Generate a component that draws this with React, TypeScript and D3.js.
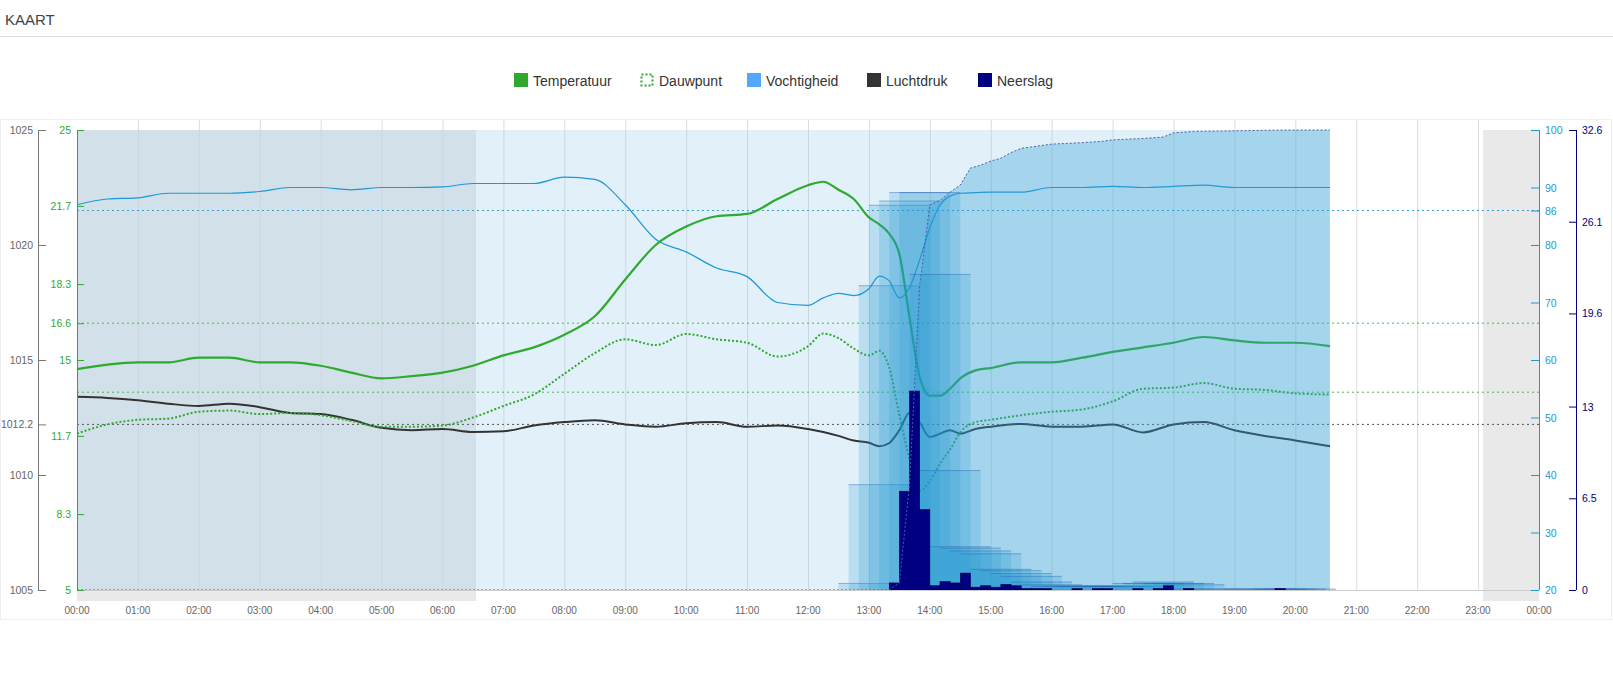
import React from 'react';
import * as d3 from 'd3';

// shared time grid (hours since 00:00)
const hours = [
  0, 0.5, 1, 1.5, 2, 2.5, 3, 3.5, 4, 4.5, 5, 5.5, 6, 6.5, 7, 7.5, 8, 8.5, 9, 9.5,
  10, 10.5, 11, 11.5, 12, 12.25, 12.5, 12.75, 13, 13.17, 13.33, 13.5, 13.67, 13.83,
  14, 14.17, 14.33, 14.5, 14.75, 15, 15.5, 16, 16.5, 17, 17.5, 18, 18.5, 19, 19.5, 20, 20.57,
];
const temperature = [
  14.6, 14.8, 14.9, 14.9, 15.1, 15.1, 14.9, 14.9, 14.75, 14.45, 14.2, 14.3, 14.45, 14.75, 15.2, 15.55, 16.1, 16.9, 18.5, 20.0,
  20.8, 21.25, 21.35, 22.0, 22.6, 22.75, 22.4, 22.0, 21.2, 20.9, 20.5, 19.6, 16.8, 14.3,
  13.45, 13.45, 13.75, 14.2, 14.55, 14.65, 14.9, 14.9, 15.1, 15.35, 15.55, 15.75, 16.0, 15.85, 15.75, 15.75, 15.6,
];
const dewPoint = [
  11.8, 12.2, 12.4, 12.45, 12.75, 12.8, 12.65, 12.7, 12.6, 12.35, 12.1, 12.1, 12.15, 12.5, 13.0, 13.5, 14.4, 15.3, 15.9, 15.65,
  16.13, 15.9, 15.75, 15.15, 15.6, 16.15, 15.95, 15.5, 15.2, 15.4, 14.7, 12.6, 10.65, 9.3,
  9.75, 10.5, 11.1, 11.85, 12.3, 12.4, 12.6, 12.75, 12.85, 13.2, 13.75, 13.8, 14.0, 13.75, 13.7, 13.55, 13.5,
];
const humidity = [
  87.0, 88.0, 88.2, 89.0, 89.0, 89.0, 89.3, 90.0, 90.0, 89.6, 90.0, 90.0, 90.1, 90.7, 90.7, 90.7, 91.8, 91.4, 87.0, 81.0,
  78.8, 76.0, 74.5, 70.0, 69.5, 70.8, 71.6, 71.2, 72.4, 74.6, 73.8, 70.8, 72.7, 77.3,
  83.0, 87.0, 88.5, 89.0, 89.1, 89.2, 89.2, 90.0, 90.0, 90.2, 90.0, 90.2, 90.4, 90.0, 90.0, 90.0, 90.0,
];
const pressure = [
  1013.4, 1013.35, 1013.25, 1013.1, 1013.0, 1013.1, 1012.95, 1012.7, 1012.65, 1012.4, 1012.05, 1011.95, 1012.0, 1011.87, 1011.9, 1012.15, 1012.3, 1012.38, 1012.2, 1012.1,
  1012.25, 1012.3, 1012.1, 1012.15, 1012.0, 1011.87, 1011.7, 1011.5, 1011.4, 1011.25, 1011.38, 1011.95, 1012.72, 1012.3,
  1011.65, 1011.8, 1011.95, 1011.8, 1012.0, 1012.1, 1012.22, 1012.1, 1012.1, 1012.2, 1011.85, 1012.2, 1012.3, 1011.95, 1011.7, 1011.5, 1011.25,
];

// rain per 10 minutes (slot start)
const rainSlots = [
  '13:20', '13:30', '13:40', '13:50', '14:00', '14:10', '14:20', '14:30', '14:40', '14:50', '15:00', '15:10',
  '15:20', '15:30', '15:40', '15:50', '16:20', '16:40', '16:50', '17:20', '17:40', '17:50', '18:10', '19:40',
];
const rainValues = [
  0.5, 7.0, 14.1, 5.7, 0.3, 0.6, 0.5, 1.2, 0.2, 0.3, 0.2, 0.4,
  0.3, 0.1, 0.1, 0.1, 0.1, 0.1, 0.1, 0.1, 0.1, 0.3, 0.1, 0.1,
];

// rain over one hour (window start)
const rainRateStarts = [
  '12:30', '12:40', '12:50', '13:00', '13:10', '13:20', '13:30', '13:40', '13:50', '14:00', '14:10', '14:20',
  '14:30', '14:40', '14:50', '15:00', '15:10', '15:20', '15:30', '15:40', '15:50', '16:00', '16:10', '16:20',
  '16:30', '16:40', '16:50', '17:00', '17:10', '17:20', '17:30', '17:40', '17:50', '18:00', '18:10', '18:50',
  '19:00', '19:10', '19:20', '19:30', '19:40',
];
const rainRateValues = [
  0.5, 7.5, 21.6, 27.3, 27.6, 28.2, 28.2, 22.4, 8.5, 3.1, 3.0, 2.8,
  2.6, 1.5, 1.4, 1.2, 1.0, 0.6, 0.4, 0.3, 0.3, 0.3, 0.3, 0.3,
  0.3, 0.3, 0.3, 0.5, 0.5, 0.6, 0.5, 0.5, 0.4, 0.1, 0.1, 0.1,
  0.1, 0.1, 0.1, 0.1, 0.1,
];

// cumulative rain
const rainTotalTimes = [
  '00:00', '13:20', '13:30', '13:40', '13:50', '14:00', '14:10', '14:20', '14:30', '14:40', '14:50', '15:00',
  '15:10', '15:20', '15:30', '15:40', '15:50', '16:00', '16:30', '16:50', '17:00', '17:30', '17:50', '18:00',
  '18:20', '19:50', '20:34',
];
const rainTotalValues = [
  0, 0, 0.5, 7.5, 21.6, 27.3, 27.6, 28.2, 28.7, 29.9, 30.1, 30.4,
  30.6, 31.0, 31.3, 31.4, 31.5, 31.6, 31.7, 31.8, 31.9, 32.0, 32.1, 32.4,
  32.5, 32.6, 32.6,
];

const nightBands = [['00:00', '06:33'], ['23:05', '24:00']];
const dataEnd = '20:34';

const pressureTicks = [1005, 1010, 1012.2, 1015, 1020, 1025];
const tempTicks = [5, 8.3, 11.7, 15, 16.6, 18.3, 21.7, 25];
const humidityTicks = [20, 30, 40, 50, 60, 70, 80, 86, 90, 100];
const rainTicks = [0, 6.5, 13, 19.6, 26.1, 32.6];
const hourLabels = d3.range(25).map(h => `${String(h % 24).padStart(2, '0')}:00`);

const averages = { temp: 16.6, dew: 13.6, humidity: 86, pressure: 1012.2 };

const legendLabels = ['Temperatuur', 'Dauwpunt', 'Vochtigheid', 'Luchtdruk', 'Neerslag'];
const legendColors = ['#2ea82e', '#2ea82e', '#52a8ff', '#333333', '#000080'];
const legendX = [514, 640, 747, 867, 978];

const FONT = '"Liberation Sans", Arial, sans-serif';
const C = {
  temp: '#2eaa2e',
  hum: '#1b98d5',
  press: '#333333',
  rain: '#000080',
  axisGray: '#777777',
};

const toH = (s: string) => {
  const [h, m] = s.split(':').map(Number);
  return h + m / 60;
};

export default function App() {
  const left = 77;
  const right = 1539;
  const top = 130;
  const bottom = 590;

  const x = d3.scaleLinear().domain([0, 24]).range([left, right]);
  const yTemp = d3.scaleLinear().domain([5, 25]).range([bottom, top]);
  const yPress = d3.scaleLinear().domain([1005, 1025]).range([bottom, top]);
  const yHum = d3.scaleLinear().domain([20, 100]).range([bottom, top]);
  const yRain = d3.scaleLinear().domain([0, 32.6]).range([bottom, top]);

  const mkLine = (vals: number[], y: d3.ScaleLinear<number, number>) =>
    d3.line<number>()
      .x((_, i) => x(hours[i]))
      .y(d => y(d))
      .curve(d3.curveMonotoneX)(vals) || '';

  const totalPts = rainTotalTimes.map((t, i) => ({ h: toH(t), v: rainTotalValues[i] }));
  const totalArea = d3.area<{ h: number; v: number }>()
    .x(d => x(d.h))
    .y0(yRain(0))
    .y1(d => yRain(d.v))(totalPts) || '';
  const totalLine = d3.line<{ h: number; v: number }>()
    .x(d => x(d.h))
    .y(d => yRain(d.v))(totalPts) || '';

  const slot = 1 / 6;

  return (
    <div style={{ position: 'absolute', left: 0, top: 0 }}>
      <svg width={1613} height={674} style={{ display: 'block', fontFamily: FONT }}>
        <rect x={0} y={0} width={1613} height={674} fill="#fff" />
        <text x={5} y={25} fontSize={15} fill="#444">KAART</text>
        <line x1={0} x2={1613} y1={36.5} y2={36.5} stroke="#dddddd" />

        {/* legend */}
        {legendLabels.map((lab, i) => (
          <g key={lab} transform={`translate(${legendX[i]},0)`}>
            {i === 1 ? (
              <rect x={1.5} y={74.5} width={11} height={11} fill="none" stroke={legendColors[i]}
                strokeWidth={2} strokeDasharray="2,2" />
            ) : (
              <rect x={0} y={73} width={14} height={14} fill={legendColors[i]} />
            )}
            <text x={19} y={86} fontSize={14} fill="#333">{lab}</text>
          </g>
        ))}

        {/* container */}
        <rect x={0.5} y={119.5} width={1611} height={500} fill="none" stroke="#eeeeee" />

        {/* night bands */}
        {nightBands.map(([a, b]) => (
          <rect key={a} x={x(toH(a))} y={top} width={x(toH(b)) - x(toH(a))} height={601 - top} fill="#e9e9e9" />
        ))}

        {/* hour grid */}
        {d3.range(1, 24).map(h => (
          <line key={h} x1={x(h) + 0.5} x2={x(h) + 0.5} y1={120} y2={bottom} stroke="#dcdcdc" />
        ))}

        {/* light humidity band */}
        <rect x={x(0)} y={top} width={x(toH(dataEnd)) - x(0)} height={bottom - top} fill="rgba(160,210,235,0.3)" />

        {/* average lines */}
        <line x1={left} x2={right} y1={yHum(averages.humidity)} y2={yHum(averages.humidity)} stroke="#3a9fd0" strokeDasharray="2,3" />
        <line x1={left} x2={right} y1={yTemp(averages.temp)} y2={yTemp(averages.temp)} stroke="#44bb44" strokeDasharray="2,3" />
        <line x1={left} x2={right} y1={yTemp(averages.dew)} y2={yTemp(averages.dew)} stroke="#44bb44" strokeDasharray="2,3" />
        <line x1={left} x2={right} y1={yPress(averages.pressure)} y2={yPress(averages.pressure)} stroke="#555" strokeDasharray="2,3" />

        {/* series lines */}
        <path d={mkLine(pressure, yPress)} fill="none" stroke={C.press} strokeWidth={2} />
        <path d={mkLine(humidity, yHum)} fill="none" stroke={C.hum} strokeWidth={1.2} />
        <path d={mkLine(temperature, yTemp)} fill="none" stroke={C.temp} strokeWidth={2.2} />
        <path d={mkLine(dewPoint, yTemp)} fill="none" stroke={C.temp} strokeWidth={2} strokeDasharray="2,2" />

        {/* cumulative rain area */}
        <path d={totalArea} fill="rgba(50,160,215,0.35)" />

        {/* hourly rain windows */}
        {rainRateStarts.map((s, i) => {
          const x0 = x(toH(s));
          const x1 = x(toH(s) + 1);
          const y0 = yRain(rainRateValues[i]);
          return (
            <g key={s}>
              <rect x={x0} y={y0} width={x1 - x0} height={bottom - y0} fill="rgba(30,150,210,0.2)" />
              <line x1={x0} x2={x1} y1={y0 + 0.5} y2={y0 + 0.5} stroke="rgba(40,80,170,0.35)" />
            </g>
          );
        })}

        {/* rain bars */}
        {rainSlots.map((s, i) => {
          const x0 = x(toH(s));
          const x1 = x(toH(s) + slot);
          const y0 = yRain(rainValues[i]);
          return (
            <rect key={s} x={x0} y={y0} width={x1 - x0} height={bottom - y0}
              fill={C.rain} stroke="#000050" strokeWidth={0.6} />
          );
        })}

        <path d={totalLine} fill="none" stroke="#4b5da6" strokeWidth={1} strokeDasharray="2,2" />

        {/* x axis */}
        <line x1={left} x2={right} y1={bottom + 0.5} y2={bottom + 0.5} stroke="#cccccc" />
        {hourLabels.map((lab, i) => (
          <text key={i} x={x(i)} y={614} fontSize={10} fill="#666" textAnchor="middle">{lab}</text>
        ))}

        {/* pressure axis */}
        <line x1={38.5} x2={38.5} y1={top} y2={bottom} stroke={C.axisGray} />
        {pressureTicks.map(t => (
          <g key={t}>
            <line x1={38} x2={46} y1={yPress(t) + 0.5} y2={yPress(t) + 0.5} stroke={C.axisGray} />
            <text x={33} y={yPress(t) + 4} fontSize={10.5} fill="#666" textAnchor="end">{t}</text>
          </g>
        ))}

        {/* temperature axis */}
        <line x1={left + 0.5} x2={left + 0.5} y1={top} y2={bottom} stroke={C.temp} />
        {tempTicks.map(t => (
          <g key={t}>
            <line x1={left} x2={left + 7} y1={yTemp(t) + 0.5} y2={yTemp(t) + 0.5} stroke={C.temp} />
            <text x={71} y={yTemp(t) + 4} fontSize={10.5} fill={C.temp} textAnchor="end">{t}</text>
          </g>
        ))}

        {/* humidity axis */}
        <line x1={right + 0.5} x2={right + 0.5} y1={top} y2={bottom} stroke={C.hum} />
        {humidityTicks.map(t => (
          <g key={t}>
            <line x1={right - 8} x2={right} y1={yHum(t) + 0.5} y2={yHum(t) + 0.5} stroke={C.hum} />
            <text x={1545} y={yHum(t) + 4} fontSize={10.5} fill={C.hum}>{t}</text>
          </g>
        ))}

        {/* rain axis */}
        <line x1={1576.5} x2={1576.5} y1={top} y2={bottom} stroke={C.rain} />
        {rainTicks.map(t => (
          <g key={t}>
            <line x1={1569} x2={1576} y1={yRain(t) + 0.5} y2={yRain(t) + 0.5} stroke={C.rain} />
            <text x={1582} y={yRain(t) + 4} fontSize={10.5} fill={C.rain}>{t}</text>
          </g>
        ))}
      </svg>
    </div>
  );
}
